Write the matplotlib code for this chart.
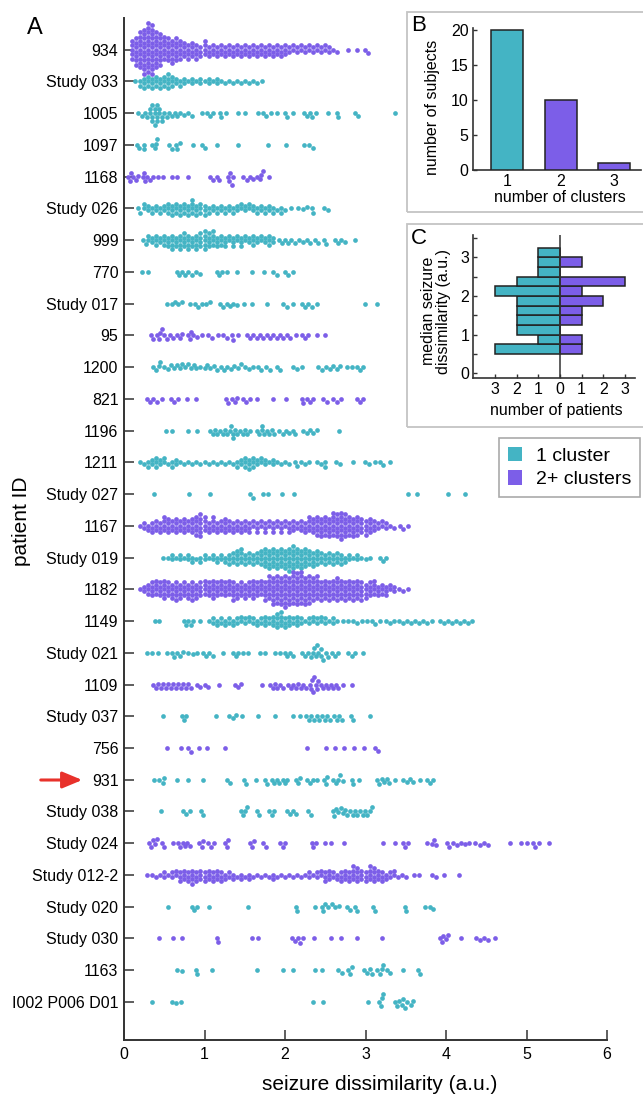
import numpy as np
import matplotlib
matplotlib.use("Agg")
import matplotlib.pyplot as plt
from matplotlib.patches import Rectangle, Patch, FancyArrowPatch

plt.rcParams['font.family'] = ['Liberation Sans', 'DejaVu Sans']

CYAN = '#44B4C4'
PURPLE = '#7C5EE8'

# ---------------- data ----------------
patients = ["934", "Study 033", "1005", "1097", "1168", "Study 026", "999", "770",
            "Study 017", "95", "1200", "821", "1196", "1211", "Study 027", "1167",
            "Study 019", "1182", "1149", "Study 021", "1109", "Study 037", "756",
            "931", "Study 038", "Study 024", "Study 012-2", "Study 020", "Study 030",
            "1163", "I002 P006 D01"]
# 1 = one cluster, 2 = two or more clusters
cluster_group = [2, 1, 1, 1, 2, 1, 1, 1, 1, 2, 1, 2, 1, 1, 1, 2, 1, 2, 1, 1, 2, 1, 2,
                 1, 1, 2, 2, 1, 2, 1, 1]

# seizure dissimilarity values per patient; (value, count) = repeated value
v934 = [(0.10,5),(0.15,7),(0.20,9),(0.25,11),(0.30,12),(0.35,12),(0.40,9),(0.45,8),(0.50,6),
        (0.55,6),(0.60,6),(0.65,6),(0.70,5),(0.75,4),(0.80,4),(0.85,4),(0.90,4),(0.95,3),
        (1.00,4),(1.05,3),(1.10,3),(1.15,3),(1.20,3),(1.25,3),(1.30,3),(1.35,3),(1.40,3),
        (1.45,3),(1.50,3),(1.55,3),(1.60,3),(1.65,3),(1.70,3),(1.75,3),(1.80,3),(1.85,3),
        (1.90,3),(1.95,3),(2.00,3),(2.05,2),(2.10,2),(2.15,2),(2.20,2),(2.25,2),(2.30,2),
        (2.35,2),(2.40,2),(2.45,2),(2.50,2),(2.55,2),(2.60,1),(2.65,1),2.78,2.89,2.99,3.03]
v033 = [0.14,(0.20,2),(0.25,3),(0.30,3),(0.35,3),(0.40,3),(0.45,3),(0.50,3),(0.55,4),(0.60,3),
        (0.65,2),(0.70,2),(0.75,2),0.80,(0.85,2),0.90,(0.95,2),1.00,(1.05,2),1.10,(1.15,2),
        1.20,1.25,1.30,1.35,1.40,1.45,1.50,1.55,1.60,1.65,1.72]
v1005 = [0.18,0.22,0.26,0.29,(0.32,2),(0.35,3),(0.38,3),(0.41,3),(0.44,2),(0.47,2),0.50,0.53,
         0.56,0.60,0.63,0.66,0.70,0.75,0.80,0.84,0.965,1.03,1.07,1.10,1.19,1.21,1.27,1.42,
         1.50,1.67,1.73,1.77,1.83,1.90,2.00,2.02,2.10,2.23,2.27,2.31,2.34,2.39,2.54,2.64,
         2.66,2.87,2.91,3.37]
v1097 = [0.157,0.19,0.248,0.25,0.344,0.385,0.40,0.414,0.563,0.592,0.646,0.66,0.696,0.861,
         0.965,1.006,1.151,1.42,1.793,2.012,2.236,2.302,2.344]
v1168 = [0.054,0.07,0.083,0.116,0.149,0.178,0.232,0.25,0.261,0.29,0.323,0.364,0.427,0.489,
         0.592,0.654,0.80,1.068,1.11,1.151,1.184,1.296,1.31,1.317,1.337,1.358,1.482,1.524,
         1.565,1.607,1.648,1.689,1.70,1.722,1.805]
v026 = [0.18,0.20,(0.25,2),(0.30,2),(0.35,2),(0.40,2),(0.45,2),(0.50,2),(0.55,3),(0.60,3),
        (0.65,3),(0.70,3),(0.75,3),(0.80,3),(0.85,4),(0.90,3),(0.95,3),(1.00,3),(1.05,2),
        (1.10,2),(1.15,2),(1.20,2),(1.25,2),(1.30,2),(1.35,2),(1.40,2),(1.45,2),(1.50,2),
        (1.55,2),(1.60,2),(1.65,2),(1.70,2),(1.75,2),(1.80,2),(1.85,2),1.90,(1.95,2),2.00,
        2.08,2.166,2.22,2.27,2.33,2.35,2.48,2.53]
v999 = [0.24,0.27,(0.30,2),(0.35,2),(0.40,3),(0.45,2),(0.50,3),(0.55,3),(0.60,4),(0.65,3),
        (0.70,4),(0.75,4),(0.80,4),(0.85,3),(0.90,4),(0.95,4),(1.00,5),(1.05,4),(1.10,4),
        (1.15,3),(1.20,3),(1.25,3),(1.30,2),(1.35,3),(1.40,2),(1.45,3),(1.50,2),(1.55,2),
        (1.60,3),(1.65,2),(1.70,2),(1.75,2),(1.80,3),(1.85,2),1.92,1.96,2.0,2.04,2.08,2.12,
        2.17,2.22,2.27,2.31,2.37,2.41,2.48,2.51,2.62,2.66,2.70,2.75,2.87]
v770 = [0.22,0.30,0.654,0.687,0.716,0.758,0.80,0.84,0.894,0.944,1.151,1.184,1.213,1.284,
        1.40,1.586,1.739,1.855,1.896,2.0,2.04,2.095]
v017 = [0.538,0.592,0.634,0.675,0.716,0.82,0.882,0.923,0.965,1.019,1.068,1.193,1.234,1.275,
        1.317,1.358,1.408,1.491,1.586,1.772,1.979,2.02,2.095,2.207,2.248,2.29,2.33,2.393,
        2.994,3.139]
v95 = [0.331,0.364,0.406,0.439,0.45,0.468,0.497,0.53,0.571,0.613,0.654,0.696,0.716,0.80,
       0.82,0.828,0.861,0.911,0.965,1.048,1.089,1.172,1.234,1.275,1.337,1.35,1.42,1.524,
       1.565,1.607,1.648,1.689,1.731,1.772,1.814,1.855,1.896,1.938,1.979,2.02,2.062,2.137,
       2.207,2.248,2.29,2.393,2.497]
v1200 = [0.36,0.40,0.43,0.45,0.50,0.55,0.58,0.62,0.66,0.70,0.72,0.76,0.80,0.83,0.87,0.90,
         0.95,1.00,1.03,1.07,1.12,1.15,1.20,1.24,1.28,1.33,1.37,1.42,1.45,1.50,1.55,1.60,
         1.66,1.70,1.77,1.81,1.896,1.938,2.095,2.145,2.207,2.414,2.455,2.51,2.56,2.60,2.64,
         2.68,2.766,2.83,2.89,2.93,2.965]
v821 = [0.29,0.323,0.364,0.406,0.468,0.58,0.621,0.675,0.787,0.894,1.267,1.296,1.337,1.379,
        1.40,1.474,1.515,1.565,1.648,1.855,2.012,2.207,2.228,2.27,2.31,2.352,2.476,2.518,
        2.60,2.642,2.69,2.89,2.932,2.973]
v1196 = [0.522,0.592,0.80,0.903,1.068,1.101,1.13,1.159,1.193,1.226,1.255,1.284,1.317,1.33,
         1.35,1.36,1.379,1.408,1.441,1.474,1.503,1.532,1.565,1.648,1.681,1.71,1.72,1.739,
         1.772,1.805,1.834,1.863,1.93,1.971,2.012,2.054,2.095,2.124,2.228,2.27,2.31,2.352,
         2.393,2.675]
v1211 = [0.20,0.25,(0.30,2),(0.35,2),(0.40,3),(0.45,2),(0.50,2),0.55,(0.60,2),(0.65,2),0.70,
         0.75,0.80,0.85,0.90,0.95,1.00,1.05,1.10,1.15,1.20,1.25,1.30,1.35,(1.40,2),(1.45,2),
         (1.50,3),(1.55,3),(1.60,3),(1.65,2),(1.70,2),(1.75,2),1.80,(1.85,2),1.90,1.95,2.00,
         2.05,2.12,2.15,2.20,2.25,2.30,2.40,2.45,(2.50,2),2.63,2.68,2.85,2.99,3.04,3.12,
         3.18,3.22,3.30]
v027 = [0.377,0.812,1.068,1.565,1.598,1.722,1.793,1.967,2.116,3.53,3.634,4.03,4.236]
v1167 = [0.20,(0.25,2),(0.30,2),(0.35,3),(0.40,3),(0.45,3),(0.50,4),(0.55,4),(0.60,3),
         (0.65,4),(0.70,3),(0.75,4),(0.80,3),(0.85,4),(0.90,5),(0.95,6),(1.00,4),(1.05,3),
         (1.10,4),(1.15,3),(1.20,3),(1.25,4),(1.30,3),(1.35,3),(1.40,3),(1.45,3),(1.50,3),
         (1.55,3),(1.60,2),(1.65,3),(1.70,2),(1.75,3),(1.80,2),(1.85,3),(1.90,2),(1.95,3),
         (2.00,2),(2.05,3),(2.10,3),(2.15,2),(2.20,3),(2.25,3),(2.30,4),(2.35,4),(2.40,5),
         (2.45,5),(2.50,5),(2.55,5),(2.60,6),(2.65,6),(2.70,7),(2.75,6),(2.80,5),(2.85,5),
         (2.90,5),(2.95,4),(3.00,4),(3.05,4),(3.10,3),(3.15,2),(3.20,2),(3.25,2),3.30,3.35,
         3.43,3.47,3.53]
v019 = [0.49,0.55,(0.60,2),0.65,(0.70,2),0.75,(0.80,2),(0.85,2),0.90,(0.95,2),(1.00,2),
        1.05,(1.10,2),(1.15,2),(1.20,2),(1.25,2),(1.30,3),(1.35,3),(1.40,4),(1.45,4),
        (1.50,3),(1.55,3),(1.60,3),(1.65,3),(1.70,4),(1.75,5),(1.80,5),(1.85,5),(1.90,5),
        (1.95,5),(2.00,5),(2.05,6),(2.10,6),(2.15,5),(2.20,5),(2.25,5),(2.30,4),(2.35,4),
        (2.40,4),(2.45,3),(2.50,3),(2.55,3),(2.60,3),(2.65,3),(2.70,3),(2.75,2),(2.80,2),
        2.85,(2.90,2),2.95,3.00,3.05,3.18,3.22,3.26]
v1182 = [0.20,(0.25,2),(0.30,3),(0.35,4),(0.40,4),(0.45,4),(0.50,5),(0.55,4),(0.60,4),
         (0.65,5),(0.70,4),(0.75,4),(0.80,4),(0.85,5),(0.90,4),(0.95,4),(1.00,4),(1.05,4),
         (1.10,5),(1.15,4),(1.20,4),(1.25,4),(1.30,4),(1.35,5),(1.40,4),(1.45,4),(1.50,4),
         (1.55,4),(1.60,5),(1.65,4),(1.70,4),(1.75,5),(1.80,6),(1.85,7),(1.90,7),(1.95,7),
         (2.00,8),(2.05,7),(2.10,8),(2.15,8),(2.20,8),(2.25,7),(2.30,7),(2.35,6),(2.40,6),
         (2.45,5),(2.50,5),(2.55,5),(2.60,5),(2.65,6),(2.70,5),(2.75,5),(2.80,5),(2.85,5),
         (2.90,5),(2.95,5),(3.00,4),(3.05,4),(3.10,4),(3.15,3),(3.20,3),(3.25,3),(3.30,2),
         (3.35,2),3.41,3.46,3.53]
v1149 = [0.385,0.44,0.74,0.77,0.80,0.83,0.86,0.94,1.05,(1.10,2),(1.15,2),(1.20,2),(1.25,2),
         (1.30,2),(1.35,2),(1.40,2),(1.45,2),(1.50,2),(1.55,2),(1.60,2),(1.65,2),(1.70,2),
         (1.75,3),(1.80,2),(1.85,3),(1.90,4),(1.95,4),(2.00,3),(2.05,3),(2.10,2),(2.15,3),
         (2.20,2),2.25,(2.30,2),(2.35,2),(2.40,2),(2.45,2),(2.50,2),2.55,(2.60,2),2.65,2.72,
         2.78,2.85,2.90,2.96,3.02,3.08,3.12,3.18,3.25,3.30,3.35,3.42,3.47,3.52,3.57,3.62,
         3.67,3.72,3.77,3.82,3.92,3.97,4.02,4.07,4.12,4.17,4.22,4.27,4.32]
v021 = [0.29,0.344,0.427,0.53,0.592,0.621,0.654,0.696,0.729,0.80,0.853,0.911,0.985,1.019,
        1.06,1.1,1.234,1.358,1.391,1.42,1.474,1.545,1.689,1.752,1.876,1.938,2.0,2.03,2.062,
        2.104,2.207,2.248,2.29,2.319,2.352,2.36,2.385,2.40,2.414,2.443,2.45,2.476,2.51,
        2.538,2.58,2.621,2.663,2.787,2.828,2.87,2.965]
v1109 = [0.364,0.4,0.427,0.455,0.489,0.522,0.551,0.58,0.613,0.646,0.675,0.704,0.737,0.77,
         0.80,0.828,0.903,0.944,1.006,1.048,1.184,1.379,1.42,1.449,1.71,1.814,1.847,1.876,
         1.905,1.938,1.971,2.041,2.07,2.104,2.137,2.166,2.195,2.228,2.261,2.31,2.32,2.33,
         2.352,2.36,2.385,2.40,2.414,2.443,2.476,2.51,2.538,2.567,2.60,2.633,2.663,2.725,
         2.828]
v037 = [0.489,0.716,0.745,0.77,1.143,1.308,1.358,1.391,1.462,1.669,1.876,2.095,2.186,2.261,
        2.294,2.327,2.36,2.393,2.427,2.46,2.493,2.526,2.559,2.609,2.642,2.675,2.708,2.816,
        2.849,3.056]
v756 = [0.53,0.704,0.80,0.832,0.936,1.035,1.255,2.277,2.509,2.621,2.737,2.857,2.986,3.118,
        3.159]
v931 = [0.377,0.439,0.48,0.497,0.663,0.80,0.977,1.275,1.317,1.491,1.515,1.64,1.752,1.772,
        1.834,1.863,1.896,1.93,1.971,2.0,2.029,2.137,2.166,2.186,2.277,2.31,2.344,2.402,
        2.484,2.51,2.526,2.60,2.633,2.663,2.683,2.716,2.828,2.849,2.923,3.147,3.172,3.2,
        3.23,3.263,3.288,3.366,3.462,3.511,3.553,3.586,3.677,3.76,3.801,3.843]
v038 = [0.455,0.729,0.77,0.82,0.952,0.985,1.449,1.474,1.503,1.524,1.648,1.681,1.805,1.834,
        1.863,2.02,2.062,2.095,2.137,2.29,2.319,2.592,2.609,2.633,2.663,2.69,2.716,2.745,
        2.766,2.807,2.84,2.87,2.899,2.932,2.965,2.994,3.023,3.056,3.077]
v024 = [0.315,0.331,0.356,0.385,0.406,0.468,0.497,0.605,0.675,0.696,0.729,0.758,0.787,0.82,
        0.936,0.965,0.985,1.048,1.077,1.118,1.255,1.275,1.296,1.565,1.586,1.615,1.731,1.764,
        1.938,1.971,2.0,2.331,2.352,2.385,2.497,2.567,2.733,3.222,3.366,3.462,3.491,3.532,
        3.768,3.822,3.851,3.876,4.008,4.035,4.085,4.137,4.187,4.238,4.29,4.366,4.417,4.468,
        4.52,4.8,4.926,5.0,5.08,5.1,5.155,5.283]
v0122 = [0.29,0.35,0.40,0.45,(0.50,2),0.55,(0.60,2),(0.65,2),(0.70,3),(0.75,3),(0.80,3),
         (0.85,4),(0.90,3),(0.95,3),(1.00,3),(1.05,3),(1.10,3),(1.15,3),(1.20,3),(1.25,2),
         (1.30,2),(1.35,2),1.40,(1.45,2),1.50,(1.55,2),1.60,1.65,1.70,1.75,1.80,(1.85,2),
         1.90,1.95,2.00,2.05,2.10,2.15,2.20,2.25,(2.30,2),2.35,(2.40,2),(2.45,2),(2.50,3),
         (2.55,3),(2.60,2),(2.65,2),(2.70,3),(2.75,3),(2.80,3),(2.85,4),(2.90,4),(2.95,3),
         (3.00,3),(3.05,4),(3.10,4),(3.15,3),(3.20,3),(3.25,2),(3.30,2),(3.35,2),3.40,3.45,
         3.50,3.60,3.66,3.82,3.87,3.98,4.16]
v020 = [0.542,0.84,0.87,0.903,1.06,1.545,2.137,2.145,2.373,2.455,2.476,2.497,2.538,2.58,
        2.621,2.675,2.774,2.807,2.87,2.89,3.097,3.118,3.49,3.503,3.739,3.8,3.843]
v030 = [0.439,0.605,0.716,1.151,1.172,1.586,1.669,2.083,2.124,2.166,2.186,2.228,2.36,2.567,
        2.69,2.89,3.209,3.925,3.946,3.967,4.0,4.03,4.19,4.37,4.42,4.47,4.52,4.61]
v1163 = [0.663,0.716,0.894,0.911,1.089,1.648,1.979,2.095,2.373,2.455,2.663,2.704,2.787,
         2.807,2.828,2.981,3.023,3.056,3.077,3.147,3.18,3.2,3.222,3.263,3.304,3.462,3.656,
         3.677]
vI002 = [0.344,0.592,0.646,0.704,2.344,2.476,3.035,3.172,3.188,3.2,3.213,3.366,3.387,3.42,
         3.449,3.47,3.491,3.52,3.561,3.594]

values = [v934, v033, v1005, v1097, v1168, v026, v999, v770, v017, v95, v1200, v821, v1196,
          v1211, v027, v1167, v019, v1182, v1149, v021, v1109, v037, v756, v931, v038, v024,
          v0122, v020, v030, v1163, vI002]

# panel B
n_clusters = [1, 2, 3]
n_subjects = [20, 10, 1]
# panel C: median dissimilarity histogram (bin lower edges, width 0.25)
bin_edges = [0.5, 0.75, 1.0, 1.25, 1.5, 1.75, 2.0, 2.25, 2.5, 2.75, 3.0]
count_one = [3, 1, 2, 2, 2, 2, 3, 2, 1, 1, 1]
count_multi = [1, 1, 0, 1, 1, 2, 1, 3, 0, 1, 0]


def expand(lst):
    out = []
    for it in lst:
        if isinstance(it, tuple):
            out += [it[0]] * it[1]
        else:
            out.append(it)
    return np.array(out, float)


def swarm(vals, d, scale):
    xs = np.sort(vals) * scale
    ys = np.zeros_like(xs)
    for i in range(len(xs)):
        x = xs[i]
        j0 = np.searchsorted(xs[:i], x - d, side='left')
        nx = xs[j0:i]
        ny = ys[j0:i]
        if len(nx) == 0:
            continue
        dx = x - nx
        h = np.sqrt(np.maximum(d * d - dx * dx, 0))
        cands = np.concatenate([[0.0], ny + h, ny - h])
        cands = cands[np.argsort(np.abs(cands), kind='stable')]
        for c in cands:
            if np.all(dx * dx + (c - ny) ** 2 >= d * d - 1e-6):
                ys[i] = c
                break
    return xs / scale, ys


W, H = 643, 1103
fig = plt.figure(figsize=(W / 100, H / 100), dpi=100)


def fx(px):
    return px / W


def fy(py):
    return 1 - py / H


# ---------------- boxes for B and C ----------------
for (x0, y0, x1, y1) in [(407, 12, 660, 212), (407, 224, 660, 427)]:
    fig.patches.append(Rectangle((fx(x0), fy(y1)), (x1 - x0) / W, (y1 - y0) / H,
                                 transform=fig.transFigure, facecolor='none',
                                 edgecolor='#c4c4c4', lw=1.3, zorder=-5))

# ---------------- panel A ----------------
axL, axR, axT, axB = 124, 607, 18, 1040
ax = fig.add_axes([fx(axL), fy(axB), (axR - axL) / W, (axB - axT) / H])
nrow = len(patients)
ylo, yhi = 32.2, 0.0
ax.set_xlim(0, 6)
ax.set_ylim(ylo, yhi)
px_per_x = (axR - axL) / 6.0
px_per_row = (axB - axT) / (ylo - yhi)
for i, (vals, g) in enumerate(zip(values, cluster_group)):
    xv, yo = swarm(expand(vals), 4.4, px_per_x)
    ax.scatter(xv, (i + 1) + yo / px_per_row, s=11.5, color=CYAN if g == 1 else PURPLE,
               linewidths=0, zorder=3)
ax.set_yticks(np.arange(1, nrow + 1))
ax.set_yticklabels(patients, fontsize=11.5)
ax.set_xticks(range(7))
ax.tick_params(axis='x', labelsize=11.5, direction='in', length=7, width=1.1,
               color='#333333', pad=5)
ax.tick_params(axis='y', direction='in', length=7, width=1.1, color='#333333', pad=4)
for s in ['top', 'right']:
    ax.spines[s].set_visible(False)
for s in ['left', 'bottom']:
    ax.spines[s].set_color('#333333')
    ax.spines[s].set_linewidth(1.4)
ax.set_facecolor('none')

fig.text(fx(380), fy(1085), 'seizure dissimilarity (a.u.)', fontsize=15, ha='center',
         va='center')
fig.text(fx(22), fy(521), 'patient ID', fontsize=15, ha='center', va='center', rotation=90)
fig.text(fx(27), fy(17), 'A', fontsize=17, ha='left', va='top')

# red arrow pointing at patient 931
arr = FancyArrowPatch((fx(38), fy(780)), (fx(85), fy(780)), transform=fig.transFigure,
                      arrowstyle='-|>,head_length=1.2,head_width=0.5', color='#E8312B',
                      lw=2.2, mutation_scale=10)
fig.patches.append(arr)

# ---------------- panel B ----------------
bL, bR, bT, bB = 472.7, 640.7, 28.3, 170
axb = fig.add_axes([fx(bL), fy(bB), (bR - bL) / W, (bB - bT) / H])
axb.bar(n_clusters, n_subjects, width=0.6, color=[CYAN, PURPLE, PURPLE],
        edgecolor='#222222', lw=1.1, zorder=3)
axb.set_xlim(0.35, 3.5)
axb.set_ylim(0, 20.3)
axb.set_xticks(n_clusters)
axb.set_yticks([0, 5, 10, 15, 20])
axb.tick_params(labelsize=11.5, direction='in', length=3, width=1, color='#333333', pad=3)
for s in ['top', 'right']:
    axb.spines[s].set_visible(False)
for s in ['left', 'bottom']:
    axb.spines[s].set_color('#333333')
    axb.spines[s].set_linewidth(1.2)
axb.set_facecolor('none')
fig.text(fx(560), fy(198), 'number of clusters', fontsize=11.5, ha='center', va='center')
fig.text(fx(433), fy(107), 'number of subjects', fontsize=11.5, ha='center', va='center',
         rotation=90)
fig.text(fx(411), fy(15), 'B', fontsize=16, ha='left', va='top')

# ---------------- panel C ----------------
cL, cR, cT, cB = 473.3, 635, 235, 377.7
axc = fig.add_axes([fx(cL), fy(cB), (cR - cL) / W, (cB - cT) / H])
axc.barh(bin_edges, [-c for c in count_one], height=0.25, align='edge', color=CYAN,
         edgecolor='#222222', lw=1.1, zorder=3)
axc.barh(bin_edges, count_multi, height=0.25, align='edge', color=PURPLE,
         edgecolor='#222222', lw=1.1, zorder=3)
axc.axvline(0, color='#333333', lw=1.1, zorder=4)
axc.set_xlim(-4, 3.46)
axc.set_ylim(-0.12, 3.58)
axc.set_xticks([-3, -2, -1, 0, 1, 2, 3])
axc.set_xticklabels(['3', '2', '1', '0', '1', '2', '3'])
axc.set_yticks([0, 1, 2, 3])
axc.set_yticks([0.5, 1.5, 2.5, 3.5], minor=True)
axc.tick_params(which='both', labelsize=11.5, direction='in', length=3, width=1,
                color='#333333', pad=3)
for s in ['top', 'right']:
    axc.spines[s].set_visible(False)
for s in ['left', 'bottom']:
    axc.spines[s].set_color('#333333')
    axc.spines[s].set_linewidth(1.2)
axc.set_facecolor('none')
fig.text(fx(556), fy(410), 'number of patients', fontsize=11.5, ha='center', va='center')
fig.text(fx(436), fy(311), 'median seizure\ndissimilarity (a.u.)', fontsize=11.5,
         ha='center', va='center', rotation=90, linespacing=0.95, multialignment='center')
fig.text(fx(411), fy(228), 'C', fontsize=16, ha='left', va='top')

# ---------------- legend ----------------
handles = [Patch(facecolor=CYAN, edgecolor='none', label='1 cluster'),
           Patch(facecolor=PURPLE, edgecolor='none', label='2+ clusters')]
leg = fig.legend(handles=handles, loc='upper left', bbox_to_anchor=(fx(499), fy(438)),
                 bbox_transform=fig.transFigure, fontsize=14, frameon=True,
                 fancybox=False, edgecolor='#aaaaaa', framealpha=1, borderaxespad=0,
                 handlelength=0.75, handleheight=0.75, handletextpad=0.7,
                 labelspacing=0.3, borderpad=0.45)
leg.get_frame().set_linewidth(1.2)

fig.savefig('out.png', dpi=100)
